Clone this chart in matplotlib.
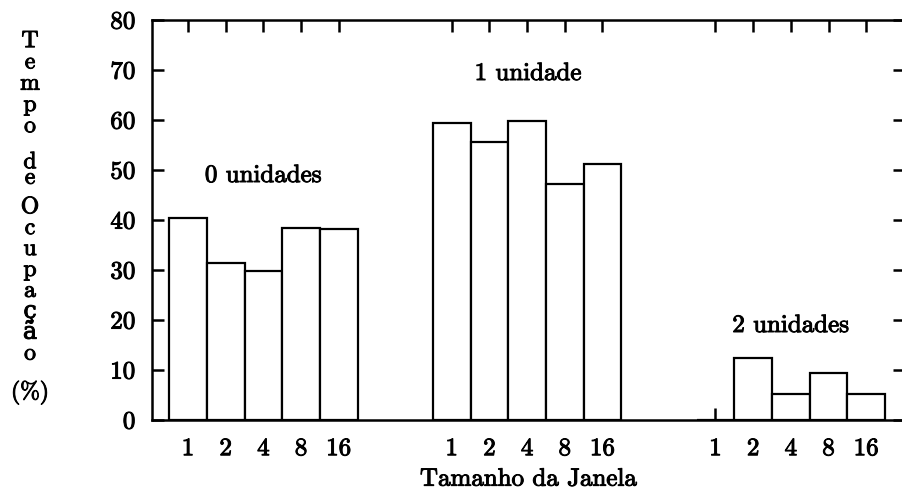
import matplotlib
matplotlib.use("Agg")
import matplotlib.pyplot as plt
import matplotlib.patheffects as pe
import numpy as np

window_sizes = ["1", "2", "4", "8", "16"]
group_labels = ["0 unidades", "1 unidade", "2 unidades"]
units0 = [40.4, 31.5, 29.8, 38.3, 38.2]
units1 = [59.3, 55.6, 59.7, 47.2, 51.1]
units2 = [0.0, 12.5, 5.3, 9.5, 5.3]
yticks = [0, 10, 20, 30, 40, 50, 60, 70, 80]
xlabel = "Tamanho da Janela"
ylabel_words = ["T\ne\nm\np\no", "d\ne", "O\nc\nu\np\na\nç\nã\no", "(%)"]

plt.rcParams["font.family"] = ["cmr10", "DejaVu Serif"]
FS = 18
thick = [pe.withStroke(linewidth=0.7, foreground="black")]

W, H = 903, 494
fig = plt.figure(figsize=(W / 100, H / 100), dpi=100)
ax = fig.add_axes([152 / W, 74 / H, 753 / W, 400 / H])

series = [units0, units1, units2]
offsets = [0, 7, 14]
positions = []
labels = []
for off, vals in zip(offsets, series):
    x = np.arange(len(vals)) + off
    ax.bar(x, vals, width=1.0, facecolor="white", edgecolor="black", linewidth=1.6, zorder=2)
    positions.extend(x)
    labels.extend(window_sizes)

ax.set_xlim(-0.956, 19.03)
ax.set_ylim(0, 80)
ax.set_xticks(positions)
ax.set_xticklabels(labels, fontsize=FS)
ax.set_yticks(yticks)
ax.set_yticklabels([str(v) for v in yticks], fontsize=FS)
ax.tick_params(axis="both", direction="in", length=8.5, width=1.8, top=True, right=True)
ax.tick_params(axis="x", pad=13)
ax.tick_params(axis="y", pad=12)
for s in ax.spines.values():
    s.set_linewidth(1.8)
for t in ax.get_xticklabels() + ax.get_yticklabels():
    t.set_path_effects(thick)

xl = ax.set_xlabel(xlabel, fontsize=FS, labelpad=6)
xl.set_path_effects(thick)

for xx, yy, lab in [(2.0, 47.6, group_labels[0]), (9.03, 68.0, group_labels[1]), (16.0, 17.6, group_labels[2])]:
    ax.text(xx, yy, lab, ha="center", va="baseline", fontsize=FS, path_effects=thick)

# stacked vertical y label, one block per word (top rows in pixels from top)
tops = [30, 151, 196, 380]
spacings = [0.95, 0.62, 0.93, 1.0]
for word, top, ls in zip(ylabel_words, tops, spacings):
    fig.text(30 / W, 1 - top / H, word, ha="center", va="top", ma="center",
             fontsize=FS - 1, linespacing=ls, path_effects=thick)

fig.savefig("out.png", dpi=100)
